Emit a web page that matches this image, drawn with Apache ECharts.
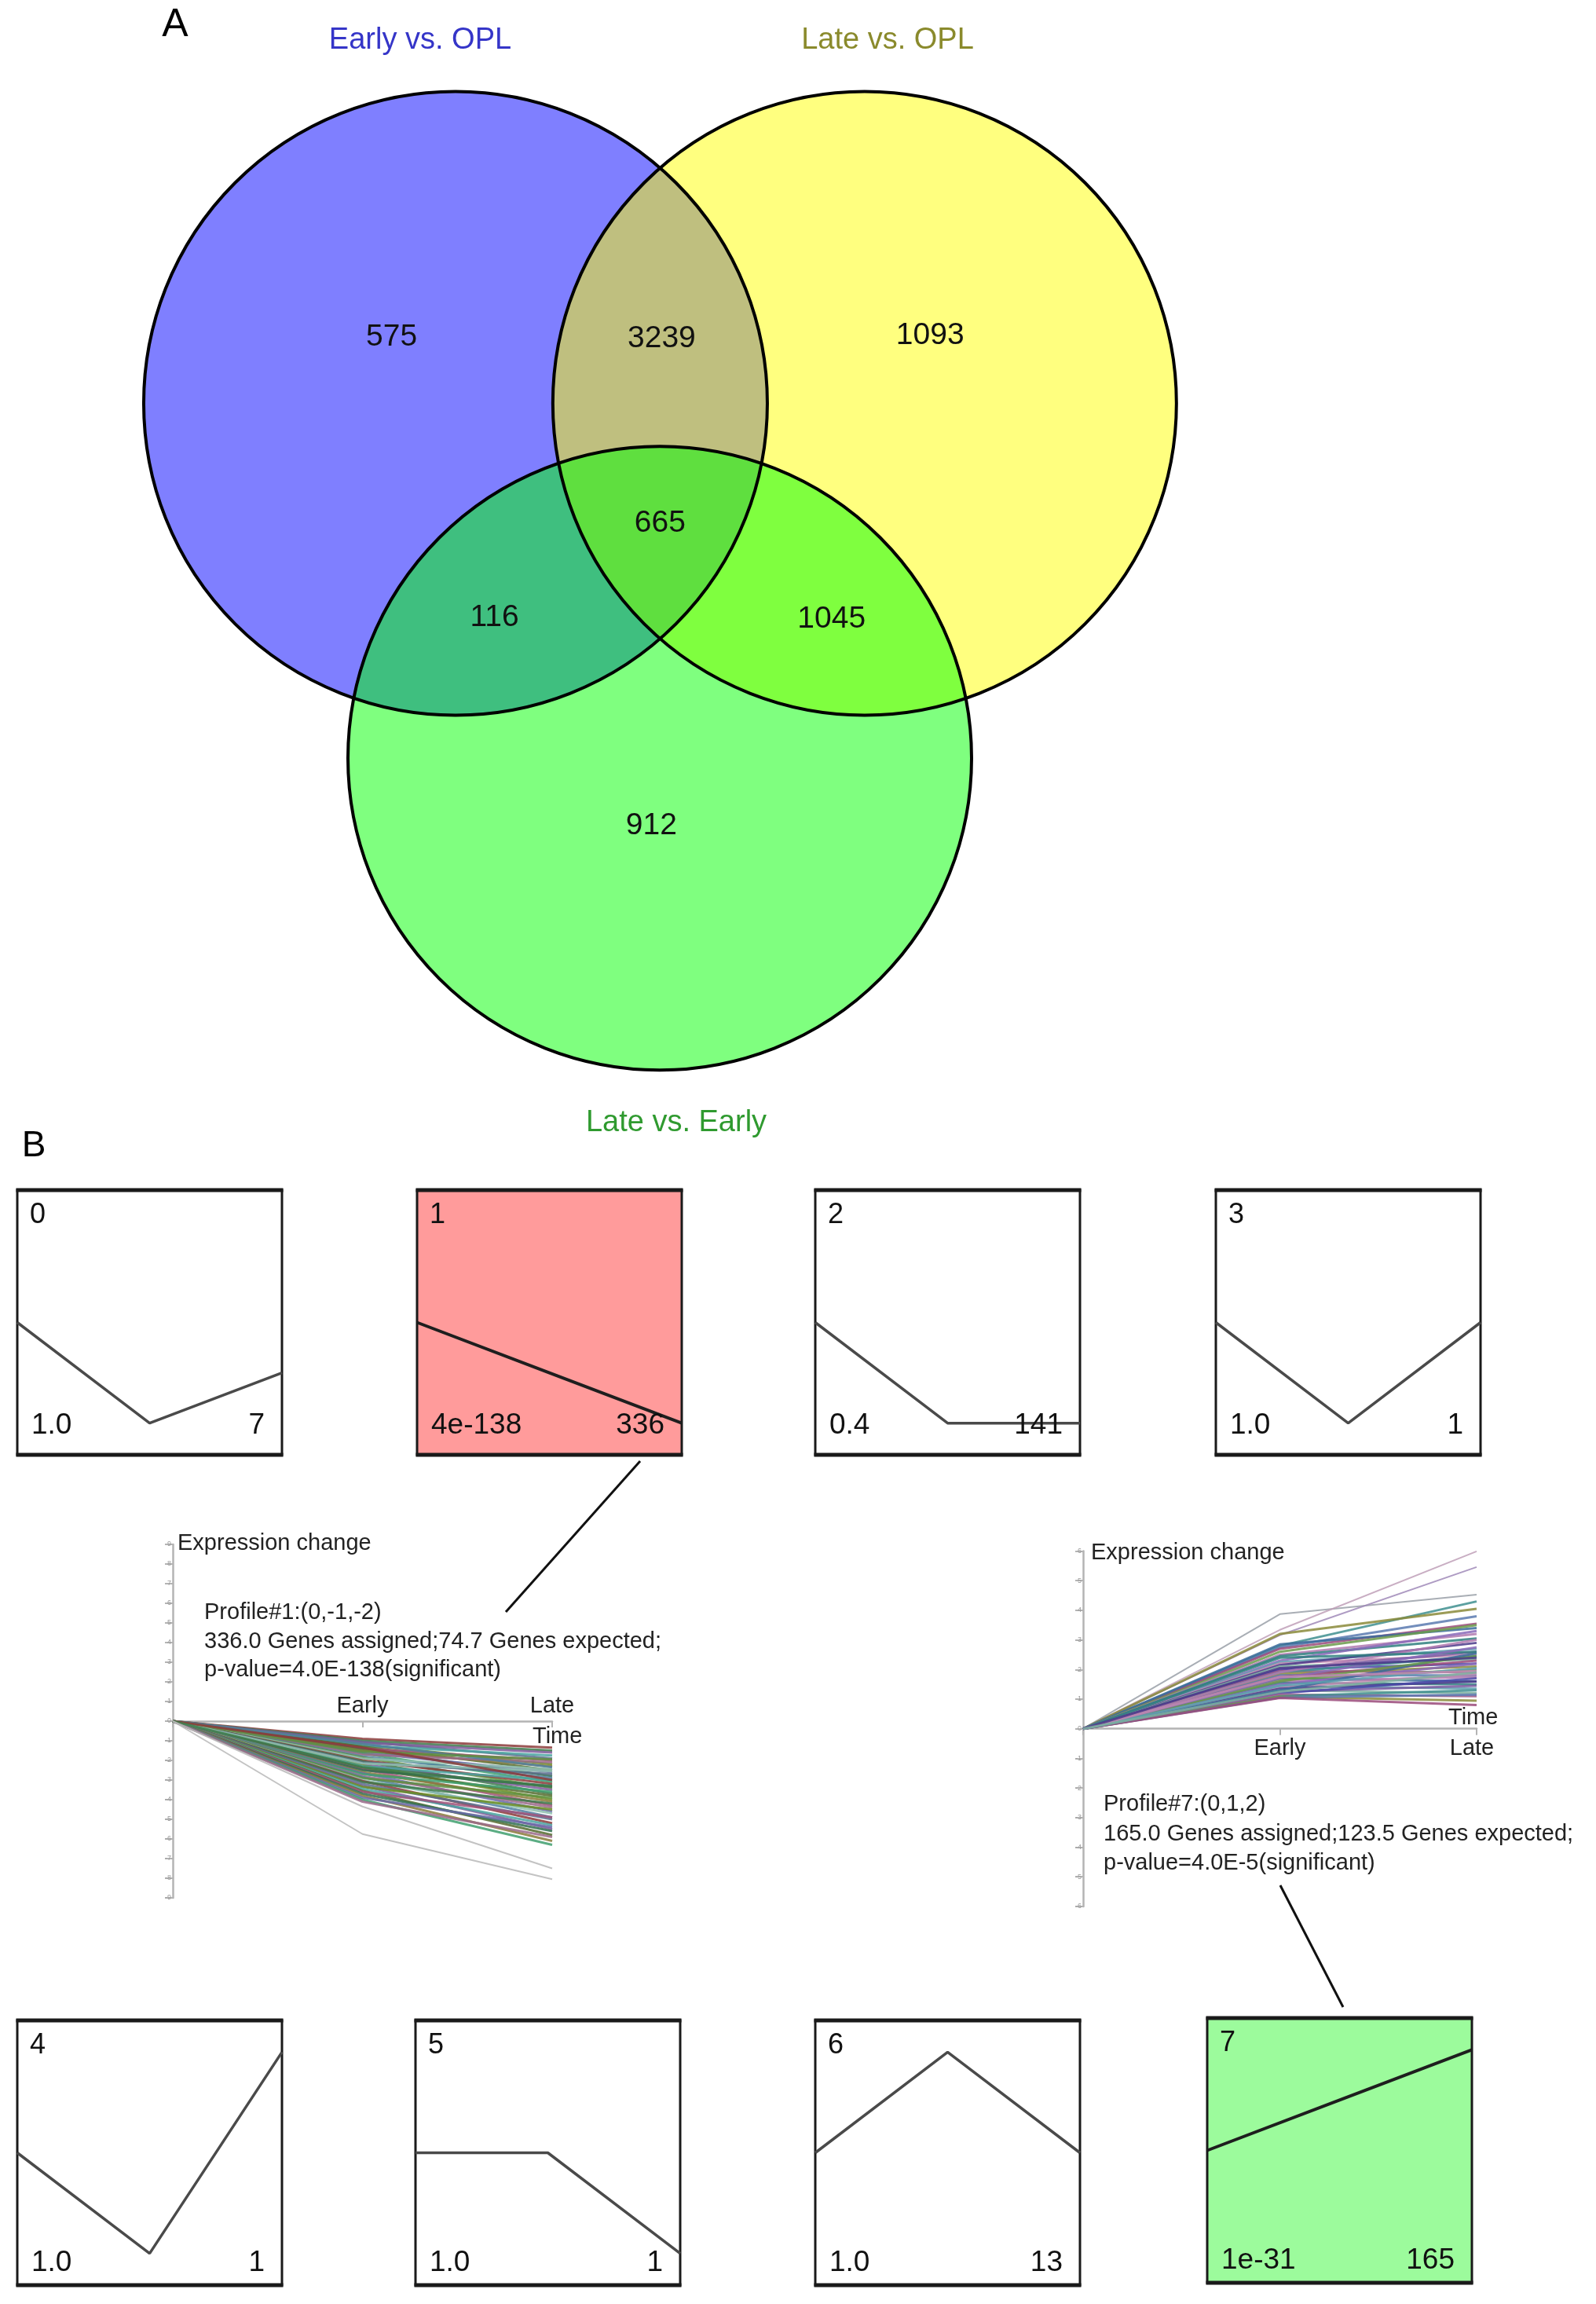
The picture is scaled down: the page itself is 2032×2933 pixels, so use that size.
<!DOCTYPE html>
<html>
<head>
<meta charset="utf-8">
<script src="https://cdn.jsdelivr.net/npm/echarts@6/dist/echarts.min.js"></script>
<style>
html,body{margin:0;padding:0;background:#ffffff;}
#c{width:2032px;height:2933px;}
</style>
</head>
<body>
<div id="c"></div>
<script>
// ================= DATA =================
// Panel A: Venn diagram
const vennSetNames = ['Early vs. OPL', 'Late vs. OPL', 'Late vs. Early'];
const vennRegionKeys = ['A', 'B', 'C', 'AB', 'AC', 'BC', 'ABC'];
const vennRegionCounts = [575, 1093, 912, 3239, 116, 1045, 665];

// Panel B: STEM profiles
const profileIds = [0, 1, 2, 3, 4, 5, 6, 7];
const timeCategories = ['OPL', 'Early', 'Late'];
const profileShapes = [
  [0, -2, -1], [0, -1, -2], [0, -2, -2], [0, -2, 0],
  [0, -2, 2], [0, 0, -2], [0, 2, 0], [0, 1, 2]
];
const profilePValues = ['1.0', '4e-138', '0.4', '1.0', '1.0', '1.0', '1.0', '1e-31'];
const profileCounts = [7, 336, 141, 1, 1, 1, 13, 165];
const profileSignificant = [false, true, false, false, false, false, false, true];

// Inset: profile #1 genes, [Early, Late] expression change (OPL = 0)
const profile1Genes = [
  [-0.9, -1.35], [-1.0, -1.5], [-1.05, -1.9], [-1.1, -1.6], [-1.2, -2.2], [-1.25, -1.75], [-1.3, -2.5], [-1.4, -2.0],
  [-1.45, -2.8], [-1.5, -2.3], [-1.6, -2.6], [-1.65, -3.1], [-1.7, -2.1], [-1.8, -2.9], [-1.85, -3.4], [-1.9, -2.45],
  [-2.0, -3.2], [-2.05, -3.7], [-2.1, -2.7], [-2.2, -3.5], [-2.25, -4.0], [-2.3, -3.0], [-2.4, -3.8], [-2.45, -4.3],
  [-2.5, -3.3], [-2.6, -4.1], [-2.65, -4.6], [-2.7, -3.6], [-2.8, -4.4], [-2.85, -4.9], [-2.9, -3.9], [-3.0, -4.7],
  [-3.05, -5.2], [-3.1, -4.2], [-3.2, -5.0], [-3.3, -5.5], [-3.35, -4.5], [-3.45, -5.3], [-3.55, -5.8], [-3.6, -4.9],
  [-3.7, -5.6], [-3.8, -6.1], [-3.9, -5.4], [-4.0, -6.3], [-4.1, -5.9], [-1.15, -2.35], [-1.55, -1.95], [-2.15, -2.55],
  [-1.35, -3.0], [-2.35, -3.35], [-4.35, -7.5], [-5.75, -8.05]
];
const profile1Text = [
  'Profile#1:(0,-1,-2)',
  '336.0 Genes assigned;74.7 Genes expected;',
  'p-value=4.0E-138(significant)'
];

// Inset: profile #7 genes, [Early, Late]
const profile7Genes = [
  [3.87, 4.53], [3.34, 5.99], [3.16, 5.46], [2.8, 4.3], [3.2, 4.05], [2.75, 3.8], [2.7, 3.55], [2.85, 3.4], [2.6, 3.5],
  [2.5, 3.2], [2.45, 3.05], [2.3, 3.3], [2.25, 2.7], [2.2, 2.5], [2.15, 2.9], [2.1, 2.35], [2.0, 2.6], [2.0, 2.2],
  [1.95, 1.9], [1.9, 2.45], [1.85, 2.1], [1.8, 1.8], [1.75, 2.3], [1.7, 1.6], [1.65, 2.0], [1.6, 1.75], [1.55, 1.5],
  [1.5, 2.2], [1.45, 1.35], [1.4, 1.85], [1.35, 1.6], [1.3, 1.2], [1.25, 1.45], [1.2, 1.7], [1.15, 1.1], [1.1, 1.3],
  [1.08, 0.95], [1.05, 1.15], [1.04, 0.8], [1.3, 2.55], [1.6, 2.45], [1.9, 3.0], [2.4, 2.6], [1.7, 2.75],
  [1.45, 2.05], [1.75, 1.95], [2.05, 2.4], [1.25, 1.9]
];
const profile7Text = [
  'Profile#7:(0,1,2)',
  '165.0 Genes assigned;123.5 Genes expected;',
  'p-value=4.0E-5(significant)'
];
const inset1YTicks = [-9, 9];
const inset7YTicks = [-6, 6];

// ================= LAYOUT / STYLE =================
const FONT = '"Liberation Sans", Arial, Helvetica, sans-serif';
const vennCenters = [[-0.655, 0.378], [0.657, 0.378], [0, -0.760]];
const vennFill = ['rgba(0,0,255,0.5)', 'rgba(255,255,0,0.5)', 'rgba(0,255,0,0.5)'];
const vennLabelAnchor = {
  A: [-0.860, 0.589], B: [0.867, 0.594], C: [-0.027, -0.977],
  AB: [0.006, 0.585], AC: [-0.530, -0.309], BC: [0.551, -0.314], ABC: [0.001, -0.008]
};
const boxRects = [
  [22, 1515], [531, 1515], [1038, 1515], [1548, 1515],
  [22, 2572], [529, 2572], [1038, 2572], [1537, 2569]
];
const BOX = 337;
const geneColors1 = ['#8b3a3a', '#3d7a4a', '#5a6e8c', '#7d5a9a', '#6b8e23', '#4aa3a0', '#556b2f', '#a0527a',
  '#2f6f4f', '#8a7a3a', '#6a6aa8', '#3f9f6f', '#9a6a8a', '#4f7f9f', '#5f8f3f', '#8fbfaf'];
const geneColors7 = ['#7a5aa0', '#4a4aa8', '#a05a8a', '#3f8f8f', '#8a8a3a', '#5a7ab0', '#9a4a7a', '#3a6a9a',
  '#6a9a4a', '#b07ab0', '#2f7f7f', '#8a6ab8', '#5f9faf', '#c08ab0', '#4a3a8a', '#7fb0a0'];

// ================= OPTION =================
const grids = [], xAxes = [], yAxes = [], series = [];

// Venn grid (index 0): 397 px per unit on both axes
grids.push({ left: 6.3, top: 28.3, width: 1667.4, height: 1389.5, show: false });
xAxes.push({ gridIndex: 0, type: 'value', min: -2.1, max: 2.1, show: false });
yAxes.push({ gridIndex: 0, type: 'value', min: -1.9, max: 1.6, show: false });

series.push({
  type: 'custom', xAxisIndex: 0, yAxisIndex: 0, z: 1, silent: true,
  data: vennSetNames.map((n, i) => ({ name: n, value: [vennCenters[i][0], vennCenters[i][1], 1] })),
  renderItem: (p, api) => {
    const c = api.coord([api.value(0), api.value(1)]);
    const r = api.size([api.value(2), 0])[0];
    return { type: 'circle', shape: { cx: c[0], cy: c[1], r: r }, style: { fill: vennFill[p.dataIndex] } };
  }
});
series.push({
  type: 'custom', xAxisIndex: 0, yAxisIndex: 0, z: 2, silent: true,
  data: vennSetNames.map((n, i) => ({ name: n, value: [vennCenters[i][0], vennCenters[i][1], 1] })),
  renderItem: (p, api) => {
    const c = api.coord([api.value(0), api.value(1)]);
    const r = api.size([api.value(2), 0])[0];
    return { type: 'circle', shape: { cx: c[0], cy: c[1], r: r }, style: { fill: 'none', stroke: '#000', lineWidth: 4 } };
  }
});
series.push({
  type: 'custom', xAxisIndex: 0, yAxisIndex: 0, z: 3, silent: true,
  data: vennRegionKeys.map((k, i) => [vennLabelAnchor[k][0], vennLabelAnchor[k][1], vennRegionCounts[i]]),
  renderItem: (p, api) => {
    const c = api.coord([api.value(0), api.value(1)]);
    return {
      type: 'text', x: c[0], y: c[1],
      style: { text: String(api.value(2)), font: '39px ' + FONT, fill: '#111',
        align: 'center', verticalAlign: 'middle', textAlign: 'center', textVerticalAlign: 'middle' }
    };
  }
});

// Profile boxes (grid index 1..8)
profileIds.forEach((id, i) => {
  const gi = i + 1;
  grids.push({
    left: boxRects[i][0], top: boxRects[i][1], width: BOX, height: BOX, show: true,
    borderColor: '#1a1a1a', borderWidth: 3,
    backgroundColor: profileSignificant[i] ? (id === 1 ? '#ff9b9b' : '#9cfb9c') : '#ffffff'
  });
  xAxes.push({ gridIndex: gi, type: 'category', data: timeCategories, boundaryGap: false, show: false });
  yAxes.push({ gridIndex: gi, type: 'value', min: -2.63, max: 2.63, show: false });
  series.push({
    type: 'line', name: 'Profile ' + id, xAxisIndex: gi, yAxisIndex: gi, data: profileShapes[i],
    symbol: 'none', silent: true, z: 5,
    lineStyle: { color: profileSignificant[i] ? '#1e1e1e' : '#4a4a4a', width: profileSignificant[i] ? 4 : 3.5 }
  });
});

// Inset grids: 9 (profile 1), 10 (profile 7)
function insetAxes(gi, yr) {
  xAxes.push({
    gridIndex: gi, type: 'value', min: 0, max: 2, interval: 1,
    axisLine: { show: true, onZero: true, lineStyle: { color: '#b4b4b4', width: 2.5 } },
    axisTick: { show: true, length: 8, lineStyle: { color: '#b4b4b4', width: 2 } },
    axisLabel: { show: false }, splitLine: { show: false }
  });
  yAxes.push({
    gridIndex: gi, type: 'value', min: yr[0], max: yr[1], interval: 1,
    axisLine: { show: true, onZero: false, lineStyle: { color: '#b4b4b4', width: 2.5 } },
    axisTick: { show: true, length: 10, lineStyle: { color: '#b4b4b4', width: 2 } },
    axisLabel: { show: true, fontSize: 9, color: '#9a9a9a', margin: 2, fontFamily: FONT },
    splitLine: { show: false }
  });
}
grids.push({ left: 220, top: 1966, width: 483, height: 450, show: false });
insetAxes(9, inset1YTicks);
grids.push({ left: 1379, top: 1974.5, width: 501, height: 452.4, show: false });
insetAxes(10, inset7YTicks);

profile1Genes.forEach((g, k) => {
  const outlier = k >= profile1Genes.length - 2;
  series.push({
    type: 'line', xAxisIndex: 9, yAxisIndex: 9, symbol: 'none', silent: true, z: 3,
    data: [[0, 0], [1, g[0]], [2, g[1]]],
    lineStyle: { color: outlier ? '#b8b8b8' : geneColors1[k % geneColors1.length], width: outlier ? 2 : 3, opacity: 0.85 }
  });
});
profile7Genes.forEach((g, k) => {
  const outlier = k < 3;
  series.push({
    type: 'line', xAxisIndex: 10, yAxisIndex: 10, symbol: 'none', silent: true, z: 3,
    data: [[0, 0], [1, g[0]], [2, g[1]]],
    lineStyle: { color: outlier ? ['#9aa0a8', '#c0a0b8', '#a08ab8'][k] : geneColors7[k % geneColors7.length], width: outlier ? 2 : 3, opacity: 0.85 }
  });
});

const chart = echarts.init(document.getElementById('c'), null, { width: 2032, height: 2933, renderer: 'canvas' });
chart.setOption({
  animation: false,
  backgroundColor: '#ffffff',
  textStyle: { fontFamily: FONT },
  grid: grids, xAxis: xAxes, yAxis: yAxes, series: series
});

// ================= TEXT & ANNOTATIONS =================
function txt(text, x, y, size, color, align) {
  return {
    type: 'text', x: x, y: y, z: 100, silent: true,
    style: { text: text, font: size + 'px ' + FONT, fill: color || '#111',
      align: align || 'left', textAlign: align || 'left', verticalAlign: 'middle', textVerticalAlign: 'middle' }
  };
}
const g = [];
g.push(txt('A', 223, 32, 50, '#000', 'center'));
g.push(txt(vennSetNames[0], 535, 52, 38, '#3535c8', 'center'));
g.push(txt(vennSetNames[1], 1130, 52, 38, '#8a8a2c', 'center'));
g.push(txt(vennSetNames[2], 861, 1430, 38, '#2f9a2f', 'center'));
g.push(txt('B', 43, 1459, 46, '#000', 'center'));

profileIds.forEach((id, i) => {
  const L = boxRects[i][0], T = boxRects[i][1];
  const bottomOff = i < 4 ? 300 : 309;
  g.push(txt(String(id), L + 16, T + 32, 36, '#111', 'left'));
  g.push(txt(profilePValues[i], L + 18, T + bottomOff, 37, '#111', 'left'));
  g.push(txt(String(profileCounts[i]), L + BOX - 22, T + bottomOff, 37, '#111', 'right'));
  // heavier top and bottom edges of each profile box
  g.push({ type: 'line', z: 90, silent: true, shape: { x1: L - 1.5, y1: T, x2: L + BOX + 1.5, y2: T }, style: { stroke: '#1a1a1a', lineWidth: 5 } });
  g.push({ type: 'line', z: 90, silent: true, shape: { x1: L - 1.5, y1: T + BOX, x2: L + BOX + 1.5, y2: T + BOX }, style: { stroke: '#1a1a1a', lineWidth: 5 } });
});

const px = (gi, v) => chart.convertToPixel({ xAxisIndex: gi, yAxisIndex: gi }, v);
// inset 1
{
  const e = px(9, [1, 0]), l = px(9, [2, 0]);
  g.push(txt('Expression change', 226, 1965, 29, '#222', 'left'));
  g.push(txt(timeCategories[1], e[0], e[1] - 19, 29, '#222', 'center'));
  g.push(txt(timeCategories[2], l[0], l[1] - 19, 29, '#222', 'center'));
  g.push(txt('Time', l[0] - 25, l[1] + 20, 29, '#222', 'left'));
  profile1Text.forEach((s, k) => g.push(txt(s, 260, 2053 + k * 36.5, 29, '#222', 'left')));
}
// inset 7
{
  const e = px(10, [1, 0]), l = px(10, [2, 0]);
  g.push(txt('Expression change', 1389, 1977, 29, '#222', 'left'));
  g.push(txt(timeCategories[1], e[0], e[1] + 25, 29, '#222', 'center'));
  g.push(txt(timeCategories[2], l[0] - 6, l[1] + 25, 29, '#222', 'center'));
  g.push(txt('Time', l[0] - 36, l[1] - 14, 29, '#222', 'left'));
  profile7Text.forEach((s, k) => g.push(txt(s, 1405, 2297 + k * 37.5, 29, '#222', 'left')));
}
// connectors from significant profile boxes to their detail insets
g.push({ type: 'line', z: 100, silent: true, shape: { x1: 815, y1: 1860, x2: 644, y2: 2052 }, style: { stroke: '#111', lineWidth: 3 } });
g.push({ type: 'line', z: 100, silent: true, shape: { x1: 1630, y1: 2400, x2: 1710, y2: 2555 }, style: { stroke: '#111', lineWidth: 3 } });

chart.setOption({ graphic: { elements: g } });
</script>
</body>
</html>
